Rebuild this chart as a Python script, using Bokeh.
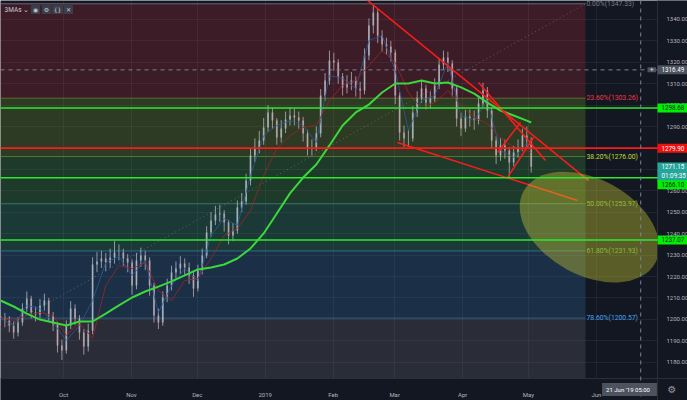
import pandas as pd
from bokeh.plotting import figure
from bokeh.models import (Range1d, FixedTicker, Span, Label, NumeralTickFormatter,
                          LinearAxis, DatetimeAxis, Grid)
from bokeh.embed import file_html
from bokeh.resources import INLINE

# ---------------- data ----------------
first_open = 1201.5
close = [1200.4, 1199.5, 1197.1, 1193.9, 1198.5, 1205.1, 1209.7, 1203.2, 1202.3, 1206.5,
         1208.8, 1201.8, 1197.6, 1187.8, 1185.5, 1197.1, 1205.1, 1200.4, 1193.9, 1187.3,
         1194.8, 1225.6, 1227.0, 1228.4, 1226.5, 1228.9, 1231.2, 1231.2, 1228.4, 1226.5,
         1215.8, 1227.5, 1229.8, 1227.5, 1215.8, 1201.8, 1198.5, 1210.2, 1215.8, 1221.9,
         1223.7, 1226.1, 1224.2, 1220.5, 1214.4, 1222.8, 1229.8, 1240.5, 1246.2, 1248.9,
         1249.4, 1245.2, 1239.1, 1241.5, 1252.2, 1255.0, 1264.8, 1276.5, 1280.2, 1283.5,
         1289.6, 1296.6, 1292.8, 1284.9, 1289.1, 1293.3, 1295.2, 1294.2, 1292.8, 1286.8,
         1280.2, 1280.2, 1286.8, 1304.5, 1311.5, 1320.9, 1319.9, 1313.4, 1308.3, 1310.1,
         1311.5, 1307.8, 1306.8, 1323.2, 1337.2, 1343.3, 1332.5, 1328.3, 1327.4, 1324.6,
         1304.5, 1287.2, 1284.4, 1284.4, 1296.6, 1303.1, 1307.8, 1301.2, 1303.1, 1309.2,
         1319.0, 1322.3, 1319.5, 1307.8, 1293.8, 1289.1, 1294.7, 1293.8, 1292.8, 1300.8,
         1306.8, 1297.5, 1283.5, 1276.5, 1281.2, 1278.8, 1273.2, 1277.9, 1280.2, 1285.8,
         1283.5, 1271.3]
high = [1204.5, 1203.0, 1201.5, 1199.0, 1201.0, 1207.5, 1213.0, 1211.0, 1206.0, 1209.5,
        1212.0, 1210.0, 1203.5, 1199.0, 1190.5, 1199.5, 1208.5, 1207.0, 1202.0, 1195.5,
        1198.0, 1229.0, 1231.5, 1232.0, 1231.0, 1233.0, 1236.5, 1235.0, 1233.0, 1230.5,
        1228.0, 1231.0, 1233.5, 1232.0, 1229.0, 1217.0, 1205.0, 1213.0, 1219.0, 1225.0,
        1227.0, 1229.5, 1228.5, 1226.5, 1222.0, 1225.5, 1233.0, 1243.5, 1250.0, 1253.0,
        1253.5, 1251.0, 1246.5, 1245.0, 1255.5, 1259.0, 1268.0, 1280.0, 1284.5, 1288.0,
        1294.0, 1300.0, 1298.5, 1294.0, 1293.0, 1297.0, 1299.0, 1298.5, 1297.0, 1294.5,
        1288.5, 1284.0, 1290.0, 1307.5, 1315.0, 1325.5, 1324.5, 1321.5, 1315.0, 1314.0,
        1315.5, 1313.5, 1311.0, 1326.5, 1340.5, 1346.8, 1345.0, 1335.0, 1331.5, 1330.0,
        1326.0, 1306.0, 1290.5, 1288.5, 1299.5, 1306.5, 1311.5, 1309.5, 1306.5, 1312.5,
        1322.0, 1325.5, 1325.0, 1321.0, 1309.0, 1296.5, 1298.0, 1298.0, 1297.5, 1304.5,
        1310.5, 1308.5, 1299.0, 1285.5, 1284.5, 1284.0, 1280.5, 1281.0, 1284.0, 1289.0,
        1290.0, 1285.0]
low = [1197.0, 1196.5, 1194.0, 1191.0, 1192.0, 1197.0, 1203.5, 1200.5, 1199.0, 1200.5,
       1204.0, 1199.0, 1194.5, 1184.5, 1181.0, 1184.0, 1195.5, 1197.5, 1190.5, 1183.5,
       1185.0, 1193.0, 1222.0, 1224.0, 1222.5, 1224.0, 1226.0, 1227.5, 1225.0, 1222.0,
       1211.5, 1214.0, 1224.5, 1223.0, 1211.0, 1198.5, 1195.5, 1197.0, 1208.0, 1213.5,
       1219.0, 1221.0, 1220.5, 1216.5, 1210.5, 1213.0, 1221.0, 1228.5, 1238.5, 1244.0,
       1245.5, 1241.0, 1235.0, 1236.5, 1240.0, 1250.0, 1253.5, 1262.5, 1273.5, 1277.5,
       1281.5, 1287.5, 1289.0, 1281.5, 1282.5, 1287.0, 1290.5, 1290.5, 1289.0, 1283.0,
       1276.5, 1276.5, 1278.5, 1285.0, 1302.0, 1309.5, 1316.0, 1310.0, 1304.5, 1305.5,
       1307.0, 1304.0, 1303.0, 1305.0, 1321.0, 1333.5, 1329.0, 1325.0, 1323.5, 1320.5,
       1300.5, 1283.5, 1280.5, 1280.5, 1283.0, 1294.5, 1301.0, 1298.0, 1298.5, 1301.5,
       1307.5, 1316.5, 1315.5, 1304.0, 1290.0, 1285.5, 1287.5, 1290.0, 1288.5, 1291.0,
       1299.0, 1294.0, 1279.5, 1272.5, 1274.0, 1275.0, 1266.5, 1271.5, 1275.5, 1278.5,
       1280.0, 1268.5]

ma_green = [1208.8, 1206.0, 1202.7, 1199.9, 1198.5, 1197.1, 1199.0, 1199.0, 1202.7, 1206.5,
            1210.2, 1213.0, 1215.3, 1217.7, 1220.5, 1223.3, 1224.2, 1225.6, 1228.4, 1233.1,
            1240.1, 1249.4, 1258.8, 1266.2, 1272.3, 1281.2, 1290.5, 1296.6, 1300.3, 1305.9,
            1310.1, 1310.1, 1311.5, 1310.1, 1310.6, 1308.3, 1305.4, 1301.2, 1297.5, 1295.2,
            1292.8, 1291.9]
ma_red = [1200.4, 1199.5, 1201.8, 1203.2, 1201.8, 1192.5, 1198.5, 1191.1, 1215.8, 1225.1,
          1223.7, 1226.5, 1213.5, 1208.8, 1218.1, 1219.1, 1228.4, 1239.1, 1242.4, 1250.8,
          1267.2, 1279.8, 1285.8, 1289.6, 1290.5, 1302.2, 1309.2, 1311.5, 1318.5, 1325.5,
          1319.9, 1305.9, 1298.4, 1301.2, 1306.8, 1299.9, 1294.2, 1291.4, 1284.9, 1280.2,
          1278.8, 1277.9]
ma_blue = [1200.4, 1197.1, 1206.5, 1205.1, 1198.5, 1190.1, 1197.1, 1208.8, 1226.5, 1229.3,
           1220.5, 1227.5, 1203.2, 1215.8, 1223.7, 1218.1, 1239.1, 1247.1, 1243.8, 1267.2,
           1285.8, 1290.5, 1292.8, 1290.5, 1282.6, 1313.9, 1312.5, 1307.8, 1330.2, 1332.5,
           1316.2, 1288.2, 1302.2, 1304.5, 1319.9, 1295.2, 1292.8, 1302.2, 1278.8, 1275.6,
           1282.1, 1278.8]

fib_names = ["0.00%", "23.60%", "38.20%", "50.00%", "61.80%", "78.60%", "100.00%"]
fib_prices = [1347.33, 1303.26, 1276.00, 1253.97, 1231.93, 1200.57, 1160.59]

green_levels = [1298.68, 1266.10, 1237.07]
red_level = 1279.90
last_price = 1271.15
countdown = "01:09:35"
cursor_price = 1316.49
cursor_time = "2019-06-21 05:00"
cursor_time_text = "21 Jun '19   05:00"

month_starts = ["2018-10-01", "2018-11-01", "2018-12-01", "2019-01-01",
                "2019-02-01", "2019-03-01", "2019-04-01", "2019-05-01", "2019-06-01"]
month_labels = ["Oct", "Nov", "Dec", "2019", "Feb", "Mar", "Apr", "May", "Jun"]
price_ticks = [1180, 1190, 1200, 1210, 1220, 1230, 1240, 1250, 1260, 1270, 1280, 1290,
               1300, 1310, 1320, 1330, 1340]

# drawn trend lines: start time, start price, end time, end price
tl_t0 = ["2019-02-16 04:00", "2019-04-08 06:00", "2019-03-02 07:00",
         "2019-04-16 21:40", "2019-04-21 11:00"]
tl_p0 = [1349.3, 1310.6, 1282.6, 1277.9, 1266.2]
tl_t1 = ["2019-05-28 10:00", "2019-05-08 19:00", "2019-05-23 09:00",
         "2019-04-27 09:20", "2019-05-03 07:30"]
tl_p1 = [1264.8, 1274.2, 1255.5, 1291.9, 1284.9]

# ---------------- layout constants ----------------
PX_PER_DAY = 2.193
T0 = pd.Timestamp("2018-09-02 06:30")
T_SCALE = T0 + pd.Timedelta(days=657 / PX_PER_DAY)      # price scale edge
T_END = T0 + pd.Timedelta(days=687 / PX_PER_DAY)
Y_TOP = 1348.87
Y_AXIS = 1172.4                                           # time scale edge
Y_BOT = 1162.11
FIB_LEFT = pd.Timestamp("2018-07-01")
FIB_RIGHT = pd.Timestamp("2019-05-27 00:45")
BG = "#131722"
FONT = "Roboto"

dates = pd.date_range(T0, periods=len(close), freq="2D")
ma_dates = list(pd.date_range(T0, periods=len(ma_green) - 1, freq="6D")) + [dates[-1]]
opens = [first_open] + close[:-1]

p = figure(width=687, height=400, x_axis_type=None, y_axis_type=None,
           x_range=Range1d(T0, T_END), y_range=Range1d(Y_BOT, Y_TOP),
           output_backend="svg", toolbar_location=None,
           min_border_left=0, min_border_top=0, min_border_right=0, min_border_bottom=0,
           background_fill_color=BG, border_fill_color=BG, outline_line_color=None)

month_ms = [pd.Timestamp(d).value // 10**6 for d in month_starts]
xaxis = DatetimeAxis(fixed_location=Y_AXIS, ticker=FixedTicker(ticks=month_ms),
                     major_label_overrides={m: s for m, s in zip(month_ms, month_labels)})
yaxis = LinearAxis(fixed_location=T_SCALE.value // 10**6, ticker=FixedTicker(ticks=price_ticks),
                   formatter=NumeralTickFormatter(format="0.00"))
for ax in (xaxis, yaxis):
    ax.major_tick_line_color = None
    ax.minor_tick_line_color = None
    ax.axis_line_color = "#2a2e39"
    ax.major_label_text_color = "#b2b5be"
    ax.major_label_text_font = FONT
    ax.major_label_text_font_size = "6px"
yaxis.major_label_standoff = 3
xaxis.major_label_standoff = 7
p.add_layout(xaxis, "below")
p.add_layout(yaxis, "right")
p.add_layout(Grid(dimension=0, ticker=FixedTicker(ticks=month_ms),
                  grid_line_color="#ffffff", grid_line_alpha=0.06))
p.add_layout(Grid(dimension=1, ticker=FixedTicker(ticks=price_ticks),
                  grid_line_color="#ffffff", grid_line_alpha=0.06))

# fib retracement zones
zone_colors = ["#f23645", "#95c62c", "#4ac64a", "#3bc18b", "#3b8fd6", "#868090"]
zone_alpha = [0.18, 0.2, 0.2, 0.2, 0.2, 0.2]
for i in range(len(fib_prices) - 1):
    p.quad(left=[FIB_LEFT], right=[FIB_RIGHT], top=[fib_prices[i]], bottom=[fib_prices[i + 1]],
           fill_color=zone_colors[i], fill_alpha=zone_alpha[i], line_color=None)
line_colors = ["#787b86", "#6a7a30", "#5e8a3c", "#3c8a70", "#3a7a9a", "#3a6a90", "#787b86"]
for i, fp in enumerate(fib_prices):
    p.segment(x0=[FIB_LEFT], x1=[FIB_RIGHT], y0=[fp], y1=[fp], line_color=line_colors[i],
              line_width=1, line_alpha=0.8)
p.line(x=[T0, FIB_RIGHT], y=[1195.3, fib_prices[0]], line_color="#9598a1", line_alpha=0.5,
       line_dash="1 3", line_width=1)

# candles
up = [c >= o for o, c in zip(opens, close)]
body_top = [max(o, c) for o, c in zip(opens, close)]
body_bot = [min(o, c) for o, c in zip(opens, close)]
ccol = ["#b4bfc8" if u else "#c6b0b6" for u in up]
p.segment(x0=dates, x1=dates, y0=low, y1=high, line_color=ccol, line_width=1, line_alpha=0.75)
p.vbar(x=dates, width=pd.Timedelta(hours=20), top=body_top, bottom=body_bot,
       fill_color=ccol, line_color=None, fill_alpha=0.7)

# moving averages
p.line(x=ma_dates, y=ma_blue, line_color="#2a5a9a", line_width=1, line_alpha=0.8)
p.line(x=ma_dates, y=ma_red, line_color="#9a2626", line_width=1, line_alpha=0.85)
p.line(x=ma_dates, y=ma_green, line_color="#3ad83a", line_width=2)

# trend lines
p.segment(x0=pd.to_datetime(tl_t0), y0=tl_p0, x1=pd.to_datetime(tl_t1), y1=tl_p1,
          line_color="#ff1a1a", line_width=1.5)

# ellipse
p.ellipse(x=[pd.Timestamp("2019-05-28 20:00")], y=[1243.1], width=150, height=96,
          width_units="screen", height_units="screen", angle=-0.5,
          fill_color="#c8c832", fill_alpha=0.4, line_color=None)

# price-scale and time-scale strips
p.quad(left=[T_SCALE], right=[T_END], top=[Y_TOP], bottom=[Y_BOT],
       fill_color=BG, line_color=None)
p.quad(left=[T0], right=[T_END], top=[Y_AXIS], bottom=[Y_BOT],
       fill_color=BG, line_color=None)

# horizontal levels
for g in green_levels:
    p.add_layout(Span(location=g, dimension="width", line_color="#2ee82e", line_width=1.6))
p.add_layout(Span(location=red_level, dimension="width", line_color="#ff1a1a", line_width=1.8))

# crosshair
p.add_layout(Span(location=cursor_price, dimension="width", line_color="#758696",
                  line_width=1, line_dash="4 4"))
p.add_layout(Span(location=pd.Timestamp(cursor_time), dimension="height", line_color="#758696",
                  line_width=1, line_dash="4 4"))

# fib labels
fib_text_colors = ["#787b86", "#f23645", "#c0dc3a", "#8fbf3a", "#7fbf3a", "#42a5f5"]
for i in range(len(fib_text_colors)):
    p.add_layout(Label(x=FIB_RIGHT, y=fib_prices[i], x_offset=1,
                       text="%s(%.2f)" % (fib_names[i], fib_prices[i]),
                       text_color=fib_text_colors[i], text_font=FONT, text_font_size="6.8px",
                       text_baseline="middle", text_align="left"))

# price tags on the price scale
def tag(price, text, bg, fg, dy=0):
    p.add_layout(Label(x=657, x_units="screen", y=price, y_offset=dy, text=text,
                       text_color=fg, text_font=FONT, text_font_size="6.3px",
                       text_baseline="middle", text_align="left",
                       background_fill_color=bg, padding=(4, 2)))

tag(cursor_price, "%.2f" % cursor_price, "#4c525e", "#ffffff")
p.add_layout(Label(x=647, x_units="screen", y=cursor_price, text="+", text_color="#d1d4dc",
                   text_font=FONT, text_font_size="8px", text_baseline="middle",
                   background_fill_color="#4c525e", padding=(2, 0)))
tag(green_levels[0], "%.2f" % green_levels[0], "#00f000", "#131722")
tag(red_level, "%.2f" % red_level, "#f01010", "#ffffff")
tag(last_price, "%.2f" % last_price, "#26a69a", "#ffffff")
tag(last_price, countdown, "#26a69a", "#ffffff", dy=-9)
tag(green_levels[1], "%.2f" % green_levels[1], "#00f000", "#131722", dy=-7)
tag(green_levels[2], "%.2f" % green_levels[2], "#00f000", "#131722")

# time tag of the crosshair (kept clear of the price scale)
p.add_layout(Label(x=629, x_units="screen", y=11, y_units="screen", text=cursor_time_text,
                   text_color="#ffffff", text_font=FONT, text_font_size="6px",
                   text_align="center", text_baseline="middle",
                   background_fill_color="#4c525e", padding=(4, 3)))
# settings gear
p.add_layout(Label(x=667, x_units="screen", y=11, y_units="screen", text="\u2699",
                   text_color="#9598a1", text_font="DejaVu Sans", text_font_size="10px",
                   text_baseline="middle"))

# legend, top-left
p.add_layout(Label(x=4, x_units="screen", y=391, y_units="screen", text="3MAs \u2304",
                   text_color="#c8cad2", text_font=FONT, text_font_size="6.5px",
                   text_baseline="middle"))
for k, ic in enumerate(["\u25c9", "\u2699", "{}", "\u2715"]):
    p.add_layout(Label(x=35 + 11 * k, x_units="screen", y=391, y_units="screen", text=ic,
                       text_color="#c8cad2", text_font="DejaVu Sans", text_font_size="6px",
                       text_baseline="middle", text_align="center",
                       background_fill_color="#3a3e4a", padding=(2, 1)))

open("out.html", "w").write(file_html(p, INLINE))
